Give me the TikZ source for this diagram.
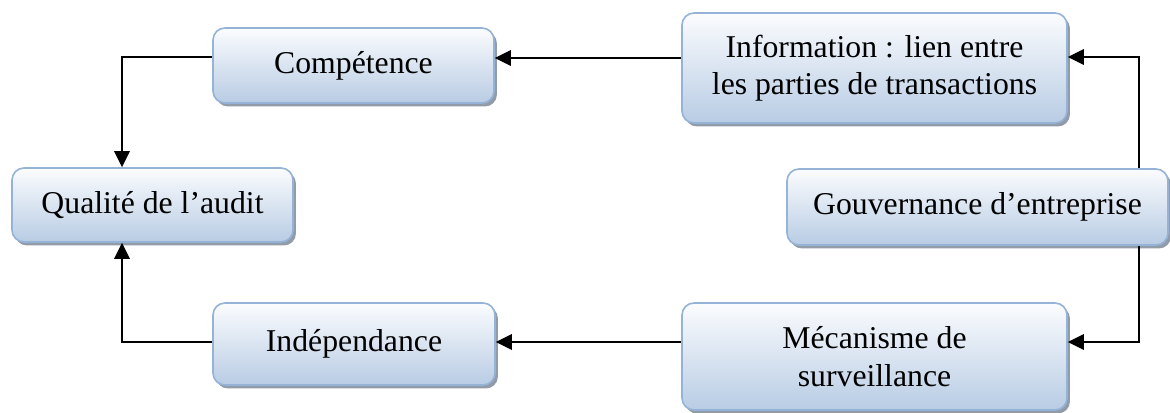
\documentclass[tikz,border=0pt]{standalone}
\usepackage{fontspec}
\setmainfont{Liberation Serif}
\usetikzlibrary{arrows.meta,shadows}
\definecolor{boxedge}{HTML}{95B3D7}
\definecolor{boxtop}{HTML}{FBFCFE}
\definecolor{boxbot}{HTML}{B8CCE4}
\definecolor{shadowgrey}{HTML}{7F8A99}
\begin{document}
\begin{tikzpicture}[x=0.75pt,y=-0.75pt,
  card/.style={draw=boxedge, line width=1.2pt, rounded corners=9pt,
    top color=boxtop, bottom color=boxbot, align=center, inner sep=0pt,
    font=\fontsize{23.8pt}{28pt}\selectfont,
    drop shadow={shadow xshift=2.2pt, shadow yshift=-2.6pt, fill=shadowgrey, opacity=0.85}},
  link/.style={line width=1.8pt, black},
  arr/.style={link, -{Triangle[length=12pt,width=11.5pt]}}]
\useasboundingbox (0,0) rectangle (1170,412);

% boxes
\node[card, minimum width=210.75pt, minimum height=56.25pt] (comp) at (353.5,65.5) {Compétence};
\node[card, minimum width=210.75pt, minimum height=55.5pt] (qual) at (152.5,205) {Qualité de l’audit};
\node[card, minimum width=288.75pt, minimum height=82.5pt] (info) at (874.5,68) {Information : lien entre\\les parties de transactions};
\node[card, minimum width=285.75pt, minimum height=57pt] (gouv) at (977.5,207) {Gouvernance d’entreprise};
\node[card, minimum width=288.75pt, minimum height=80.25pt] (meca) at (874.5,356.5) {Mécanisme de\\surveillance};
\node[card, minimum width=211.5pt, minimum height=61.5pt] (inde) at (354,344) {Indépendance};

% connectors
\draw[arr] (info.west |- 0,58) -- (comp.east |- 0,58);
\draw[arr] (comp.west |- 0,57) -| (qual.north -| 122,0);
\draw[arr] (gouv.north -| 1139,0) |- (info.east |- 0,57);
\draw[arr] (gouv.south -| 1139,0) |- (meca.east |- 0,342);
\draw[arr] (meca.west |- 0,342) -- (inde.east |- 0,342);
\draw[arr] (inde.west |- 0,342) -| (qual.south -| 122,0);
\end{tikzpicture}
\end{document}
